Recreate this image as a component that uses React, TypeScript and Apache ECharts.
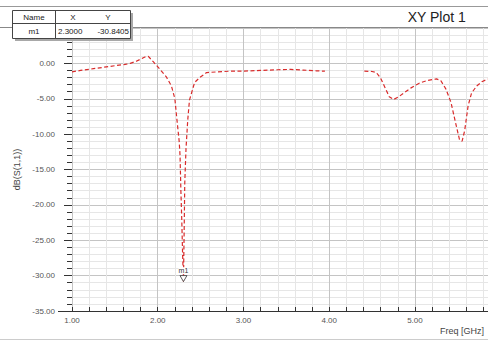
import React, { useEffect, useRef } from "react";
import * as echarts from "echarts";

const FONT = "'Liberation Sans', Arial, sans-serif";

const titleText = "XY Plot 1";
const xAxisName = "Freq [GHz]";
const yAxisName = "dB(S(1,1))";

const markerName = "m1";
const markerX = 2.3;
const markerY = -30.8405;

// dB(S(1,1)) curve, first band (GHz, dB)
const band1X = [1.0, 1.1, 1.25, 1.4, 1.52, 1.62, 1.68, 1.75, 1.85, 1.89, 1.95, 2.03, 2.1, 2.16, 2.2, 2.22, 2.25, 2.26, 2.27, 2.28, 2.29, 2.3, 2.31, 2.315, 2.33, 2.35, 2.37, 2.43, 2.49, 2.57, 2.7, 2.85, 3.0, 3.2, 3.4, 3.55, 3.7, 3.85, 3.95];
const band1Y = [-1.2, -1.0, -0.75, -0.5, -0.3, -0.15, 0.0, 0.3, 0.9, 1.0, 0.2, -0.9, -1.9, -3.2, -5.0, -7.5, -11.0, -13.0, -18.0, -22.0, -27.0, -30.84, -22.0, -17.0, -12.0, -8.0, -5.2, -2.7, -2.0, -1.3, -1.2, -1.1, -1.1, -1.0, -0.9, -0.85, -0.95, -1.05, -1.1];

// second band
const band2X = [4.41, 4.5, 4.55, 4.6, 4.65, 4.7, 4.75, 4.8, 4.87, 4.95, 5.05, 5.15, 5.25, 5.3, 5.36, 5.42, 5.47, 5.52, 5.55, 5.58, 5.62, 5.66, 5.72, 5.78, 5.85];
const band2Y = [-1.1, -1.15, -1.3, -2.1, -3.4, -4.7, -5.1, -4.8, -4.2, -3.5, -2.8, -2.4, -2.2, -2.4, -3.6, -5.5, -8.2, -10.8, -11.0, -9.5, -6.0, -4.2, -3.2, -2.6, -2.2];

const xMin = 1;
const xMax = 5.852;
const xStep = 0.2;
const yMin = -35;
const yMax = 5;

const MAJOR = "#c4c4c4";
const MINOR = "#e6e6e6";

export default function App() {
  const ref = useRef<HTMLDivElement>(null);
  useEffect(() => {
    if (!ref.current) return;
    const chart = echarts.init(ref.current, undefined, { renderer: "svg" });
    const data: any[] = [];
    band1X.forEach((x, i) => data.push([x, band1Y[i]]));
    data.push([4.18, null]);
    band2X.forEach((x, i) => data.push([x, band2Y[i]]));

    const isInt = (v: number) => Math.abs(v - Math.round(v)) < 1e-6;

    chart.setOption({
      animation: false,
      backgroundColor: "#ffffff",
      grid: { left: 72, right: -1, top: 28, bottom: 32 },
      xAxis: {
        type: "value",
        min: xMin,
        max: xMax,
        interval: xStep,
        axisLine: { show: true, onZero: false, lineStyle: { color: "#333", width: 1 } },
        axisTick: { show: true, inside: true, length: 4, lineStyle: { color: "#333" } },
        splitLine: { show: true, lineStyle: { color: [MAJOR, MINOR, MINOR, MINOR, MINOR], width: 1 } },
        axisLabel: {
          color: "#555",
          fontSize: 8,
          fontFamily: FONT,
          margin: 5,
          formatter: (v: number) => (isInt(v) ? v.toFixed(2) : ""),
          showMaxLabel: false,
        },
      },
      yAxis: {
        type: "value",
        min: yMin,
        max: yMax,
        interval: 5,
        name: yAxisName,
        nameLocation: "middle",
        nameGap: 50,
        nameTextStyle: { color: "#444", fontSize: 9, fontFamily: FONT },
        axisLine: { show: false },
        axisTick: { show: true, length: 8, lineStyle: { color: "#333" } },
        minorTick: { show: true, splitNumber: 5, length: 5, lineStyle: { color: "#333" } },
        splitLine: { show: true, lineStyle: { color: MAJOR, width: 1 } },
        minorSplitLine: { show: true, lineStyle: { color: MINOR, width: 1 } },
        axisLabel: {
          color: "#555",
          fontSize: 8,
          fontFamily: FONT,
          margin: 17,
          formatter: (v: number) => (v === yMax ? "" : v.toFixed(2)),
        },
      },
      series: [
        {
          type: "line",
          data,
          showSymbol: false,
          connectNulls: false,
          lineStyle: { color: "#d92b2b", width: 1.2, type: [4, 2.5] },
          z: 3,
          markPoint: {
            symbol: "triangle",
            symbolSize: [7, 6],
            symbolRotate: 180,
            symbolOffset: [0, -3],
            itemStyle: { color: "#ffffff", borderColor: "#333", borderWidth: 0.8 },
            label: {
              show: true,
              position: "top",
              distance: 1,
              formatter: markerName,
              color: "#333",
              fontSize: 7,
              fontFamily: FONT,
              backgroundColor: "#ffffff",
            },
            data: [{ coord: [markerX, markerY] }],
          },
        },
      ],
      graphic: [
        { type: "line", shape: { x1: 0, y1: 6.5, x2: 488, y2: 6.5 }, style: { stroke: "#999", lineWidth: 1 }, z: 10 },
        { type: "line", shape: { x1: 0, y1: 27.5, x2: 488, y2: 27.5 }, style: { stroke: "#888", lineWidth: 1 }, z: 10 },
        { type: "line", shape: { x1: 0, y1: 339.5, x2: 488, y2: 339.5 }, style: { stroke: "#ccc", lineWidth: 1 }, z: 10 },
        { type: "line", shape: { x1: 58, y1: 311.5, x2: 72, y2: 311.5 }, style: { stroke: "#333", lineWidth: 1 }, z: 10 },
        {
          type: "text",
          right: 22,
          top: 10,
          style: { text: titleText, fill: "#222", font: `14px ${FONT}` },
          z: 10,
        },
        {
          type: "text",
          right: 4,
          top: 326,
          style: { text: xAxisName, fill: "#444", font: `9px ${FONT}` },
          z: 10,
        },
        // marker table shadow
        { type: "rect", shape: { x: 15, y: 13, width: 118, height: 28 }, style: { fill: "#a8a8a8" }, z: 20 },
        { type: "rect", shape: { x: 12.5, y: 10.5, width: 118, height: 28 }, style: { fill: "#ffffff", stroke: "#444", lineWidth: 1 }, z: 21 },
        { type: "line", shape: { x1: 12.5, y1: 23.5, x2: 130.5, y2: 23.5 }, style: { stroke: "#444", lineWidth: 1 }, z: 22 },
        { type: "line", shape: { x1: 55.5, y1: 10.5, x2: 55.5, y2: 38.5 }, style: { stroke: "#444", lineWidth: 1 }, z: 22 },
        { type: "text", x: 34, y: 17, style: { text: "Name", fill: "#222", font: `8px ${FONT}`, align: "center", verticalAlign: "middle" }, z: 23 },
        { type: "text", x: 73, y: 17, style: { text: "X", fill: "#222", font: `8px ${FONT}`, align: "center", verticalAlign: "middle" }, z: 23 },
        { type: "text", x: 108, y: 17, style: { text: "Y", fill: "#222", font: `8px ${FONT}`, align: "center", verticalAlign: "middle" }, z: 23 },
        { type: "text", x: 34, y: 31, style: { text: markerName, fill: "#222", font: `8px ${FONT}`, align: "center", verticalAlign: "middle" }, z: 23 },
        { type: "text", x: 58, y: 31, style: { text: markerX.toFixed(4), fill: "#222", font: `8px ${FONT}`, align: "left", verticalAlign: "middle" }, z: 23 },
        { type: "text", x: 129, y: 31, style: { text: markerY.toFixed(4), fill: "#222", font: `8px ${FONT}`, align: "right", verticalAlign: "middle" }, z: 23 },
      ],
    });
    return () => chart.dispose();
  }, []);
  return <div ref={ref} style={{ width: 488, height: 343, position: "absolute", left: 0, top: 0 }} />;
}
